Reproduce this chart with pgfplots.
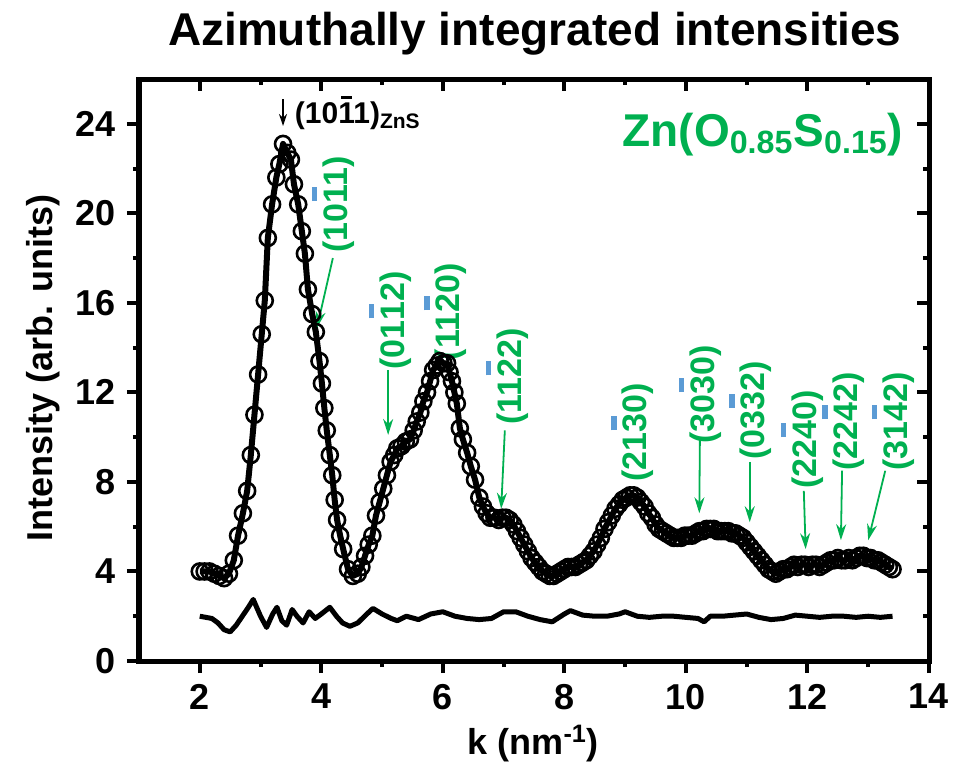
\documentclass[border=0pt]{standalone}
\usepackage{pgfplots}
\pgfplotsset{compat=1.18}
\usepackage{pgfplotstable}
\usetikzlibrary{arrows.meta}
\usepackage{fontspec}
\setmainfont{Liberation Sans}
\definecolor{lgreen}{RGB}{0,176,80}
\definecolor{barblue}{RGB}{91,155,213}
\newcommand\gb[1]{\makebox[0pt][l]{\hspace{0.07em}\textcolor{barblue}{\rule[0.88em]{0.42em}{0.16em}}}#1}
\newcommand\kb[1]{\makebox[0pt][l]{\hspace{0.1em}\rule[0.84em]{0.36em}{0.09em}}#1}

\pgfplotstableread{
x y
2.00 4.0
2.08 4.0
2.16 4.0
2.24 3.9
2.32 3.8
2.40 3.7
2.48 3.9
2.56 4.5
2.63 5.6
2.71 6.6
2.78 7.6
2.84 9.2
2.90 11.0
2.96 12.8
3.02 14.6
3.07 16.1
3.12 18.9
3.19 20.4
3.26 21.6
3.31 22.2
3.37 23.1
3.44 22.7
3.50 22.4
3.55 21.3
3.62 20.4
3.68 19.2
3.73 18.2
3.78 16.6
3.85 15.5
3.91 14.7
3.97 13.4
4.01 12.4
4.05 11.3
4.09 10.3
4.14 9.2
4.18 8.3
4.22 7.2
4.26 6.3
4.31 5.6
4.36 5.0
4.44 4.1
4.52 3.8
4.60 3.9
4.66 4.2
4.72 4.7
4.78 5.2
4.84 5.6
4.90 6.5
4.96 7.1
5.02 7.7
5.08 8.3
5.14 8.9
5.20 9.2
5.25 9.5
5.32 9.6
5.39 9.8
5.46 9.9
5.52 10.3
5.57 10.7
5.63 11.1
5.68 11.6
5.74 12.0
5.79 12.5
5.84 13.0
5.90 13.2
5.95 13.4
6.01 13.3
6.07 13.3
6.11 12.9
6.15 12.5
6.19 12.0
6.23 11.5
6.28 10.4
6.33 9.9
6.40 9.3
6.46 8.7
6.53 8.1
6.60 7.3
6.66 6.9
6.72 6.6
6.78 6.4
6.85 6.4
6.92 6.3
6.98 6.4
7.04 6.4
7.10 6.3
7.16 6.1
7.22 5.8
7.28 5.5
7.34 5.2
7.40 4.9
7.46 4.6
7.52 4.4
7.58 4.2
7.64 4.0
7.70 3.9
7.76 3.8
7.82 3.8
7.88 3.9
7.94 4.0
8.00 4.1
8.06 4.2
8.12 4.2
8.18 4.2
8.24 4.3
8.30 4.4
8.36 4.5
8.42 4.7
8.48 4.9
8.54 5.2
8.60 5.5
8.66 5.9
8.72 6.2
8.78 6.5
8.84 6.8
8.90 7.0
8.96 7.2
9.02 7.3
9.08 7.4
9.14 7.4
9.20 7.3
9.26 7.1
9.32 6.9
9.38 6.6
9.44 6.4
9.50 6.1
9.56 5.9
9.62 5.8
9.68 5.7
9.74 5.6
9.80 5.5
9.86 5.5
9.92 5.5
9.98 5.6
10.04 5.6
10.10 5.6
10.16 5.7
10.22 5.8
10.28 5.8
10.34 5.9
10.40 5.9
10.46 5.9
10.52 5.8
10.58 5.8
10.64 5.8
10.70 5.8
10.76 5.7
10.82 5.7
10.88 5.6
10.94 5.5
11.00 5.3
11.06 5.1
11.12 4.9
11.18 4.7
11.24 4.5
11.30 4.3
11.36 4.1
11.42 4.0
11.48 3.9
11.54 4.0
11.60 4.1
11.66 4.1
11.72 4.2
11.78 4.3
11.84 4.2
11.90 4.3
11.96 4.3
12.02 4.2
12.08 4.3
12.14 4.3
12.20 4.2
12.26 4.3
12.32 4.4
12.38 4.5
12.44 4.5
12.50 4.6
12.56 4.5
12.62 4.5
12.68 4.6
12.74 4.5
12.80 4.6
12.86 4.7
12.92 4.7
12.98 4.6
13.04 4.6
13.10 4.5
13.16 4.5
13.22 4.4
13.28 4.3
13.34 4.2
13.40 4.1
}\maindata

\pgfplotstableread{
x y
2.00 2.0
2.10 1.95
2.20 1.9
2.30 1.7
2.40 1.4
2.50 1.3
2.60 1.6
2.70 2.0
2.80 2.4
2.88 2.75
3.00 2.0
3.10 1.5
3.20 2.1
3.27 2.4
3.35 1.8
3.43 1.6
3.52 2.3
3.60 2.0
3.70 1.7
3.80 2.2
3.90 1.9
4.00 2.1
4.14 2.4
4.25 2.0
4.35 1.7
4.47 1.55
4.60 1.7
4.75 2.1
4.85 2.35
5.00 2.1
5.15 1.9
5.25 1.8
5.40 2.0
5.60 1.85
5.80 2.1
6.00 2.2
6.20 2.0
6.40 1.9
6.60 1.85
6.80 1.9
7.00 2.2
7.20 2.2
7.40 2.0
7.60 1.85
7.80 1.75
8.00 2.1
8.10 2.25
8.30 2.05
8.50 2.0
8.70 2.0
8.90 2.1
9.00 2.2
9.20 2.0
9.40 1.95
9.60 2.0
9.80 2.0
10.00 1.95
10.20 1.9
10.30 1.75
10.40 2.0
10.60 2.0
10.80 2.05
11.00 2.1
11.20 1.95
11.40 1.85
11.60 1.9
11.80 2.05
12.00 2.0
12.20 1.95
12.40 2.0
12.60 2.0
12.80 1.95
13.00 2.0
13.20 1.95
13.40 2.0
}\resdata

\begin{document}
\begin{tikzpicture}
\pgfplotsset{
  common/.style={
    at={(0pt,0pt)}, anchor=south west,
    scale only axis, width=395pt, height=291pt,
    xmin=1, xmax=14, ymin=0, ymax=26,
    xtick={2,4,...,14}, ytick={0,4,...,24},
    minor x tick num=1, minor y tick num=1,
    axis line style={line width=2.5pt},
    every tick/.style={black, line width=2pt},
    major tick length=6pt, minor tick length=3pt,
  }
}
\begin{axis}[common,
  clip=false,
  tick align=outside, xtick pos=left, ytick pos=left,
  /pgf/number format/assume math mode=true,
  ticklabel style={font=\bfseries\fontsize{18}{18}\selectfont},
  xticklabel style={yshift=-2pt},
  yticklabel style={xshift=-2pt},
]
\addplot[black, line width=3pt, line join=round] table[x=x,y=y] {\maindata};
\addplot[only marks, mark=o, mark size=4pt, black, mark options={line width=1.3pt}] table[x=x,y=y] {\maindata};
\addplot[black, line width=2.5pt, line join=round] table[x=x,y=y] {\resdata};

% title and axis labels
\node[anchor=base, font=\bfseries\fontsize{23}{23}\selectfont] at (rel axis cs:0.501,1.058) {Azimuthally integrated intensities};
\node[anchor=base, font=\bfseries\fontsize{18}{18}\selectfont] at (rel axis cs:0.499,-0.1615) {k (nm\textsuperscript{-1})};
\node[anchor=base, rotate=90, font=\bfseries\fontsize{18}{18}\selectfont] at (rel axis cs:-0.1089,0.503) {Intensity (arb. units)};

% black ZnS annotation
\draw[black, line width=0.8pt, -{Stealth[length=6pt,width=4pt]}] (axis cs:3.37,25.1) -- (axis cs:3.37,23.9);
\node[anchor=base west, inner sep=0pt, font=\bfseries\fontsize{15}{15}\selectfont] at (axis cs:3.56,24.0) {(10\kb{1}1)\textsubscript{ZnS}};

% composition
\node[anchor=base west, inner sep=0pt, text=lgreen, font=\bfseries\fontsize{23}{23}\selectfont] at (axis cs:8.95,23.0) {Zn(O\textsubscript{0.85}S\textsubscript{0.15})};

% green reflection labels
\tikzset{gl/.style={rotate=90, text=lgreen, inner sep=0pt, font=\bfseries\fontsize{17}{17}\selectfont},
         ga/.style={lgreen, line width=0.9pt, -{Stealth[length=8pt,width=5pt]}}}
\node[gl] at (axis cs:4.19,20.4) {(10\gb{1}1)};
\draw[ga] (axis cs:4.19,18.0) -- (axis cs:3.93,14.9);
\node[gl] at (axis cs:5.13,15.2) {(01\gb{1}2)};
\draw[ga] (axis cs:5.10,13.0) -- (axis cs:5.10,10.1);
\node[gl] at (axis cs:6.04,15.6) {(11\gb{2}0)};
\node[gl] at (axis cs:7.06,12.7) {(11\gb{2}2)};
\draw[ga] (axis cs:7.02,10.3) -- (axis cs:6.96,6.8);
\node[gl] at (axis cs:9.12,10.2) {(21\gb{3}0)};
\node[gl] at (axis cs:10.23,11.9) {(30\gb{3}0)};
\draw[ga] (axis cs:10.23,9.9) -- (axis cs:10.22,6.6);
\node[gl] at (axis cs:11.06,11.2) {(03\gb{3}2)};
\draw[ga] (axis cs:11.05,8.9) -- (axis cs:11.05,6.2);
\node[gl] at (axis cs:11.91,9.9) {(22\gb{4}0)};
\draw[ga] (axis cs:11.94,7.6) -- (axis cs:11.97,5.0);
\node[gl] at (axis cs:12.59,10.7) {(22\gb{4}2)};
\draw[ga] (axis cs:12.57,8.5) -- (axis cs:12.55,5.4);
\node[gl] at (axis cs:13.41,10.7) {(31\gb{4}2)};
\draw[ga] (axis cs:13.28,8.5) -- (axis cs:13.0,5.4);
\end{axis}
\begin{axis}[common,
  tick align=inside, xtick pos=right, ytick pos=right,
  xticklabels={}, yticklabels={},
]
\end{axis}
\pgfresetboundingbox
\path[use as bounding box] (-69.5pt,-52.5pt) rectangle (410pt,330.5pt);
\end{tikzpicture}
\end{document}
